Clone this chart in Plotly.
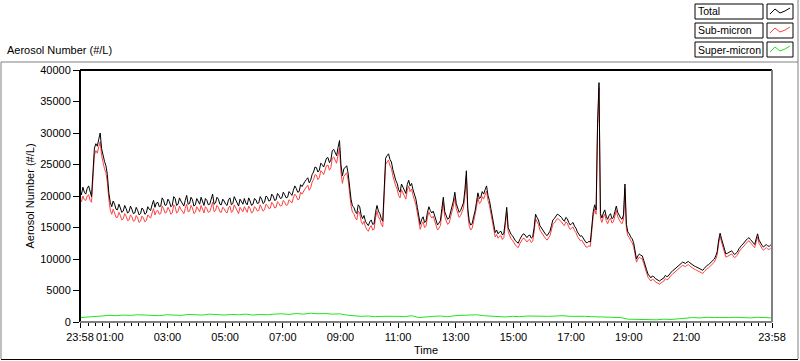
import pandas as pd
import plotly.graph_objects as go

# ---------------- data ----------------
START = "2000-01-01 23:58"
END = "2000-01-02 23:58"

# Total aerosol number (#/L), 3-minute samples
total = [
    20900, 20200, 21400, 20600, 20300, 21200, 21600, 20500, 19900, 23800,
    27600, 28300, 27900, 29000, 30000, 27500, 26300, 25500, 24800, 23400, 20500, 19000,
    18300, 19200, 18700, 17900, 17800, 18700, 18100, 17400, 17600, 18500,
    18000, 17300, 17500, 18400, 17900, 17200, 17300, 18200, 17700, 17000,
    17200, 18100, 17800, 17100, 17300, 18300, 17900, 17700, 18600, 19300,
    18200, 18900, 19000, 18300, 18400, 19700, 19300, 18500, 18600, 19500,
    19100, 18300, 18500, 19900, 19600, 18500, 18700, 19700, 19200, 18800,
    18400, 19300, 20100, 18700, 18800, 19800, 19400, 18400, 18600, 19600,
    19000, 18700, 19800, 19200, 18500, 19600, 19300, 18600, 18700, 19500,
    20300, 18700, 18900, 19800, 19500, 18700, 18600, 19500,
    19200, 18700, 18500, 19400, 19700, 18600, 18800, 19900, 19300, 18700,
    18400, 19500, 19000, 18700, 19600, 18900, 18600, 19700, 19200, 18500,
    18700, 19600, 19400, 18800, 18900, 19900, 19500, 18800, 19000, 20000,
    19800, 19200, 19300, 20300, 20000, 19300, 19400, 20400, 20100, 19600,
    19700, 20600, 20200, 19700, 19800, 20700, 20400, 20100, 20900, 21600,
    21200, 20600, 20700, 21800, 21500, 22000, 22300, 22600, 22900, 22100,
    22500, 23400, 23800, 24600, 24500, 23800, 24100, 25200, 25000, 24600,
    25300, 26000, 26100, 25300, 25700, 27200, 27400, 26800, 26400, 27700,
    28800, 25000, 23200, 24300, 24500, 24800, 23600, 21000,
    19500, 18400, 18200, 17500, 17200, 18600, 18300, 17000, 16400, 16900,
    16000, 15600, 15300, 15900, 16200, 15500, 15600, 17400, 18500, 17600,
    17200, 16400, 16000, 21000, 26000, 26400, 26700, 25800, 25400, 24200,
    23200, 22500, 22000, 21000, 20600, 21900, 21400, 20800, 20400, 21800,
    22500, 21600, 22000, 21000, 20300, 19500, 18200, 16500,
    15500, 16300, 16700, 15800, 16000, 17400, 18300, 17700, 17300, 17600,
    16900, 15900, 15400, 15700, 16100, 18000, 19800, 17500, 16900, 16300,
    16500, 17300, 18200, 19200, 20600, 18800, 18100, 17400, 17700, 18500,
    18900, 21000, 24000, 18000, 16000, 15400, 15600, 16700, 17600, 19000,
    20500, 19600, 19800, 20700, 20300, 21000, 21600, 20100,
    19300, 18000, 16800, 15200, 14200, 14600, 14000, 14300, 14400, 13800,
    14100, 16000, 18200, 15000, 14300, 13900, 13700, 13200, 12900, 12700,
    12500, 13100, 13600, 13900, 14000, 13600, 13400, 13700, 13800, 13300,
    13500, 15000, 17100, 16600, 16200, 15300, 14900, 14500, 14200, 13900,
    13700, 14000, 14400, 15300, 16200, 16400, 16700, 17100, 17000, 16800,
    16600, 16200, 16000, 16600, 16400, 15800, 15400, 15600, 15800, 15200,
    14900, 14300, 13900, 13600, 13700, 13300, 12900, 12600, 12600, 12800,
    12700, 15000,
    17500, 18600, 17800, 31500, 38000, 17200, 16500, 17300, 17800, 16800,
    16300, 16900, 17200, 16400, 16600, 17500, 18400, 17400, 16800, 16500,
    16300, 17000, 21900, 15500, 14300, 14000, 13500, 13200, 12600, 11200,
    10000, 10500, 10800, 10600, 10500, 9800, 9200, 8300, 7600, 7300,
    7000, 7300, 7200, 6900, 6800, 6600, 6500, 6700, 6800, 7000,
    7400, 7200, 7300, 7700, 7900, 8100, 8300, 8500, 8700, 9000,
    9200, 9300, 9500, 9400, 9300, 9500, 9600, 9400, 9200, 9000,
    8900, 8800, 8700, 8500, 8400, 8300, 8200, 8500, 8800, 9000,
    9100, 9300, 9600, 9800, 10000, 10500, 11200, 13000, 14100, 13200,
    12500, 11500, 10800, 10900, 11000, 11200, 11300, 11000, 10700, 10900,
    11100, 11600, 12000, 12200, 12400, 12800, 13000, 13200, 13400, 13100,
    12800, 12600, 12300, 13200, 14000, 13000, 12500, 12200, 11900, 12100,
    12300, 12100, 12000, 12200, 12400,
]

# Sub-micron aerosol number (#/L), 3-minute samples
sub_micron = [
    19700, 19100, 20000, 19400, 19300, 20000, 20200, 19300, 19000, 22500,
    26500, 27200, 26800, 27800, 28600, 26400, 25200, 24300, 23700, 22100, 19500, 17800,
    17100, 17900, 17300, 16600, 16600, 17400, 16900, 16200, 16400, 17200,
    16800, 16100, 16200, 17000, 16700, 16000, 16100, 16900, 16500, 15800,
    16000, 16800, 16500, 15900, 16100, 17000, 16700, 16500, 17300, 18000,
    17000, 17600, 17700, 17100, 17200, 18400, 18000, 17300, 17400, 18200,
    17800, 17100, 17300, 18600, 18300, 17300, 17500, 18400, 17900, 17600,
    17200, 18000, 18700, 17500, 17600, 18500, 18100, 17200, 17400, 18300,
    17800, 17500, 18500, 17900, 17300, 18300, 18000, 17400, 17500, 18200,
    19000, 17500, 17700, 18500, 18200, 17500, 17400, 18200,
    18000, 17500, 17300, 18100, 18400, 17400, 17600, 18600, 18100, 17500,
    17200, 18200, 17800, 17500, 18300, 17700, 17400, 18400, 18000, 17300,
    17500, 18300, 18100, 17600, 17700, 18600, 18200, 17600, 17800, 18700,
    18500, 18000, 18100, 19000, 18700, 18100, 18200, 19100, 18800, 18400,
    18500, 19300, 19000, 18500, 18600, 19400, 19200, 18900, 19700, 20300,
    20000, 19400, 19500, 20600, 20300, 20800, 21100, 21400, 21700, 20900,
    21300, 22200, 22600, 23400, 23300, 22600, 22900, 24000, 23800, 23400,
    24100, 24800, 24900, 24100, 24500, 26000, 26200, 25600, 25200, 26500,
    27600, 23800, 22000, 23100, 23400, 23700, 22500, 20000,
    18500, 17400, 17200, 16500, 16200, 17600, 17300, 16000, 15500, 16000,
    15100, 14700, 14400, 15000, 15300, 14600, 14700, 16500, 17600, 16700,
    16300, 15500, 15100, 20000, 25000, 25400, 25700, 24800, 24400, 23200,
    22300, 21600, 21100, 20100, 19700, 21000, 20500, 19900, 19500, 20900,
    21600, 20700, 21100, 20100, 19400, 18600, 17300, 15700,
    14700, 15500, 15900, 15000, 15200, 16600, 17500, 16900, 16500, 16800,
    16100, 15100, 14600, 14900, 15300, 17200, 18900, 16700, 16100, 15500,
    15700, 16500, 17400, 18400, 19700, 18000, 17300, 16600, 16900, 17700,
    18100, 20100, 23100, 17200, 15200, 14600, 14900, 15900, 16900, 18200,
    19700, 18800, 19000, 19900, 19500, 20200, 20800, 19300,
    18500, 17200, 16000, 14500, 13500, 13900, 13300, 13600, 13700, 13100,
    13400, 15300, 17400, 14300, 13600, 13200, 13000, 12500, 12200, 12000,
    11800, 12400, 12900, 13200, 13300, 12900, 12700, 13000, 13100, 12600,
    12800, 14300, 16400, 15900, 15500, 14600, 14200, 13800, 13500, 13200,
    13000, 13300, 13700, 14600, 15500, 15700, 16000, 16400, 16300, 16100,
    15900, 15500, 15300, 15900, 15700, 15100, 14700, 14900, 15100, 14500,
    14200, 13600, 13200, 12900, 13000, 12600, 12200, 11900, 11900, 12100,
    12000, 14300,
    16800, 17900, 17100, 30700, 37200, 16500, 15800, 16600, 17100, 16100,
    15600, 16200, 16500, 15700, 15900, 16800, 17700, 16700, 16100, 15800,
    15600, 16300, 21200, 14800, 13700, 13400, 12900, 12600, 12000, 10700,
    9500, 10000, 10300, 10100, 10000, 9300, 8700, 7800, 7100, 6800,
    6500, 6800, 6700, 6400, 6300, 6100, 6000, 6200, 6300, 6500,
    6900, 6700, 6800, 7200, 7400, 7600, 7800, 8000, 8200, 8500,
    8700, 8800, 9000, 8900, 8800, 9000, 9100, 8900, 8700, 8500,
    8400, 8300, 8200, 8000, 7900, 7800, 7700, 8000, 8300, 8500,
    8600, 8800, 9100, 9300, 9500, 10000, 10700, 12500, 13600, 12700,
    12000, 11000, 10300, 10400, 10500, 10700, 10800, 10500, 10200, 10400,
    10600, 11100, 11500, 11700, 11900, 12300, 12500, 12700, 12900, 12600,
    12300, 12100, 11800, 12700, 13500, 12500, 12000, 11700, 11400, 11600,
    11800, 11600, 11500, 11700, 11900,
]

# Super-micron aerosol number (#/L), 15-minute samples
super_micron = [
    700, 750, 800, 950, 1050,
    1000, 1100, 1050, 1150, 1080, 1120, 1000, 1150,
    1100, 1050, 1200, 1150, 1100, 1250, 1150, 1100, 1200, 1150, 1250, 1100,
    1200, 1150, 1250, 1300, 1200, 1350, 1250, 1400, 1300, 1350, 1250, 1300,
    1100, 950, 900, 950, 850, 900, 950, 900, 850, 1000, 700, 850,
    900, 950, 850, 1000, 1050, 1100, 1150, 1000, 900, 850, 800, 900,
    850, 950, 900, 850, 900, 950, 1000, 900, 950, 900, 850, 800,
    850, 800, 700, 450, 400, 350, 400, 350, 450, 400, 500, 650,
    700, 650, 750, 700, 650, 700, 750, 700, 650, 750, 700, 650,
]

tick_vals = ["2000-01-01 23:58", "2000-01-02 01:00", "2000-01-02 03:00",
             "2000-01-02 05:00", "2000-01-02 07:00", "2000-01-02 09:00",
             "2000-01-02 11:00", "2000-01-02 13:00", "2000-01-02 15:00",
             "2000-01-02 17:00", "2000-01-02 19:00", "2000-01-02 21:00",
             "2000-01-02 23:58"]
tick_text = ["23:58", "01:00", "03:00", "05:00", "07:00", "09:00", "11:00",
             "13:00", "15:00", "17:00", "19:00", "21:00", "23:58"]
y_ticks = [0, 5000, 10000, 15000, 20000, 25000, 30000, 35000, 40000]

assert len(total) == 481, len(total)
assert len(sub_micron) == 481, len(sub_micron)
assert len(super_micron) == 97, len(super_micron)

t_main = pd.date_range(START, END, periods=len(total))
t_super = pd.date_range(START, END, periods=len(super_micron))

# ---------------- layout geometry ----------------
W, H = 800, 361
L, R, T, B = 80, 772, 70, 322
FONT = "Liberation Sans"


def px(x):
    return (x - L) / (R - L)


def py(y):
    return (B - y) / (B - T)


fig = go.Figure()
fig.add_trace(go.Scatter(x=t_super, y=super_micron, mode="lines", name="Super-micron",
                         line=dict(color="#1ee61e", width=1)))
fig.add_trace(go.Scatter(x=t_main, y=sub_micron, mode="lines", name="Sub-micron",
                         line=dict(color="#ff4040", width=1)))
fig.add_trace(go.Scatter(x=t_main, y=total, mode="lines", name="Total",
                         line=dict(color="#000000", width=1)))

fig.update_layout(
    width=W, height=H,
    margin=dict(l=L, r=W - R, t=T, b=H - B, autoexpand=False),
    paper_bgcolor="white", plot_bgcolor="white",
    showlegend=False,
    font=dict(family=FONT, size=11, color="black"),
    xaxis=dict(
        type="date", range=[START, END], automargin=False,
        tickmode="array", tickvals=tick_vals, ticktext=tick_text, tickangle=0,
        ticks="outside", ticklen=5, tickcolor="black", tickwidth=1,
        minor=dict(ticks="outside", ticklen=3, tickcolor="black",
                   dtick=900000, tick0="2000-01-02 01:00"),
        showgrid=False, zeroline=False, showline=False,
        title=dict(text="Time", standoff=4, font=dict(size=11)),
        tickfont=dict(size=11),
    ),
    yaxis=dict(
        range=[0, 40000], tickmode="array", tickvals=y_ticks, tickformat="d",
        automargin=False,
        ticks="outside", ticklen=6, tickcolor="black", tickwidth=1,
        showgrid=False, zeroline=False, showline=False,
        title=dict(text="Aerosol Number (#/L)", standoff=3, font=dict(size=11)),
        tickfont=dict(size=11),
    ),
)

shapes = []
# plot frame: left/top black, right/bottom gray
shapes.append(dict(type="line", xref="paper", yref="paper", x0=0, x1=0, y0=0, y1=1,
                   line=dict(color="black", width=2)))
shapes.append(dict(type="line", xref="paper", yref="paper", x0=0, x1=1, y0=1, y1=1,
                   line=dict(color="black", width=2)))
shapes.append(dict(type="line", xref="paper", yref="paper", x0=1, x1=1, y0=0, y1=1,
                   line=dict(color="#808080", width=2)))
shapes.append(dict(type="line", xref="paper", yref="paper", x0=0, x1=1, y0=0, y1=0,
                   line=dict(color="#808080", width=2)))
# outer frame
shapes.append(dict(type="line", xref="paper", yref="paper", x0=px(1), x1=px(798),
                   y0=py(62), y1=py(62), line=dict(color="#808080", width=1)))
shapes.append(dict(type="line", xref="paper", yref="paper", x0=px(1), x1=px(1),
                   y0=py(62), y1=py(359), line=dict(color="#808080", width=1)))
shapes.append(dict(type="line", xref="paper", yref="paper", x0=px(798), x1=px(798),
                   y0=py(0), y1=py(359), line=dict(color="#808080", width=1)))
shapes.append(dict(type="line", xref="paper", yref="paper", x0=px(1), x1=px(798),
                   y0=py(359.5), y1=py(359.5), line=dict(color="black", width=1)))

annotations = [dict(text="Aerosol Number (#/L)", xref="paper", yref="paper",
                    x=px(5), y=py(50), xanchor="left", yanchor="middle",
                    showarrow=False, font=dict(size=11))]

legend_rows = [("Total", "#000000", 4), ("Sub-micron", "#ff4040", 23),
               ("Super-micron", "#1ee61e", 42)]
for name, color, top in legend_rows:
    bot = top + 15
    shapes.append(dict(type="rect", xref="paper", yref="paper",
                       x0=px(695), x1=px(763), y0=py(bot), y1=py(top),
                       line=dict(color="black", width=1), fillcolor="white"))
    shapes.append(dict(type="rect", xref="paper", yref="paper",
                       x0=px(767), x1=px(793), y0=py(bot), y1=py(top),
                       line=dict(color="black", width=1), fillcolor="white"))
    pts = [(770, top + 10), (775, top + 5), (780, top + 9), (785, top + 7), (790, top + 4)]
    path = "M " + " L ".join(f"{px(a):.5f},{py(b):.5f}" for a, b in pts)
    shapes.append(dict(type="path", xref="paper", yref="paper", path=path,
                       line=dict(color=color, width=1)))
    annotations.append(dict(text=name, xref="paper", yref="paper",
                            x=px(696), y=py(top + 7.5), xanchor="left", yanchor="middle",
                            showarrow=False, font=dict(size=10.5)))

fig.update_layout(shapes=shapes, annotations=annotations)
fig.write_html("out.html",
               config={"displayModeBar": False},
               post_script="document.body.style.margin='0px';"
                           "document.body.style.overflow='hidden';")
